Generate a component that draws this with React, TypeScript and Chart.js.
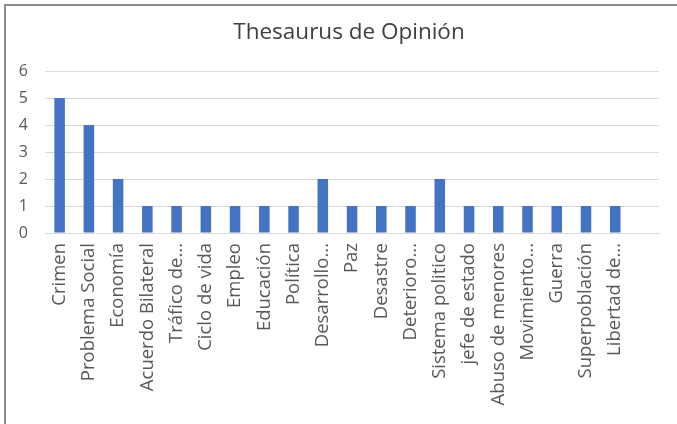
import React, { useEffect, useRef } from "react";
import { Chart, registerables } from "chart.js";

Chart.register(...registerables);

// Topic categories and their counts
const categories: string[] = [
  "Crimen",
  "Problema Social",
  "Economía",
  "Acuerdo Bilateral",
  "Tráfico de...",
  "Ciclo de vida",
  "Empleo",
  "Educación",
  "Política",
  "Desarrollo...",
  "Paz",
  "Desastre",
  "Deterioro...",
  "Sistema politico",
  "jefe de estado",
  "Abuso de menores",
  "Movimiento...",
  "Guerra",
  "Superpoblación",
  "Libertad de...",
  "",
];

const counts: (number | null)[] = [5, 4, 2, 1, 1, 1, 1, 1, 1, 2, 1, 1, 1, 2, 1, 1, 1, 1, 1, 1, null];

const yTicks: number[] = [0, 1, 2, 3, 4, 5, 6];

const chartTitle = "Thesaurus de Opinión";

const FONT = "'Open Sans', sans-serif";

export default function App() {
  const canvasRef = useRef<HTMLCanvasElement | null>(null);

  useEffect(() => {
    document.body.style.margin = "0";
    const canvas = canvasRef.current;
    if (!canvas) return;
    const chart = new Chart(canvas, {
      type: "bar",
      data: {
        labels: categories,
        datasets: [
          {
            label: chartTitle,
            data: counts,
            backgroundColor: "#4472C4",
            borderWidth: 0,
            barPercentage: 0.36,
            categoryPercentage: 1,
          },
        ],
      },
      options: {
        animation: false,
        responsive: false,
        maintainAspectRatio: false,
        // top padding leaves room for the heading drawn above the canvas
        layout: { padding: { left: 0, right: 14, top: 71, bottom: 0 } },
        plugins: {
          legend: { display: false },
          tooltip: { enabled: false },
          title: { display: false },
        },
        scales: {
          x: {
            grid: { display: false, drawTicks: false },
            border: { display: true, color: "#d9d9d9", width: 1 },
            ticks: {
              autoSkip: false,
              minRotation: 90,
              maxRotation: 90,
              padding: 10,
              color: "#595959",
              font: { family: FONT, size: 18.5, weight: "normal" },
            },
            afterFit: (scale: any) => {
              scale.height = 191;
            },
          },
          y: {
            min: 0,
            max: 6,
            afterBuildTicks: (scale: any) => {
              scale.ticks = yTicks.map((v) => ({ value: v }));
            },
            grid: { color: "#d9d9d9", drawTicks: false, lineWidth: 1 },
            border: { display: false },
            ticks: {
              padding: 17,
              color: "#595959",
              font: { family: FONT, size: 16 },
            },
            afterFit: (scale: any) => {
              scale.width = 45;
            },
          },
        },
      },
    });
    return () => chart.destroy();
  }, []);

  return (
    <div
      style={{
        position: "fixed",
        left: 0,
        top: 0,
        width: 677,
        height: 424,
        background: "#ffffff",
        overflow: "hidden",
      }}
    >
      <canvas
        ref={canvasRef}
        width={677}
        height={424}
        style={{ position: "absolute", left: 0, top: 0, width: 677, height: 424 }}
      />
      <div
        style={{
          position: "absolute",
          left: 149,
          top: 17,
          width: 400,
          height: 27,
          lineHeight: "27px",
          textAlign: "center",
          fontFamily: FONT,
          fontSize: 22.5,
          color: "#404040",
          whiteSpace: "nowrap",
        }}
      >
        {chartTitle}
      </div>
      <div
        style={{
          position: "absolute",
          left: 4,
          top: 4,
          width: 700,
          height: 450,
          borderLeft: "2px solid #8c8c8c",
          borderTop: "2px solid #8c8c8c",
          pointerEvents: "none",
        }}
      />
    </div>
  );
}
